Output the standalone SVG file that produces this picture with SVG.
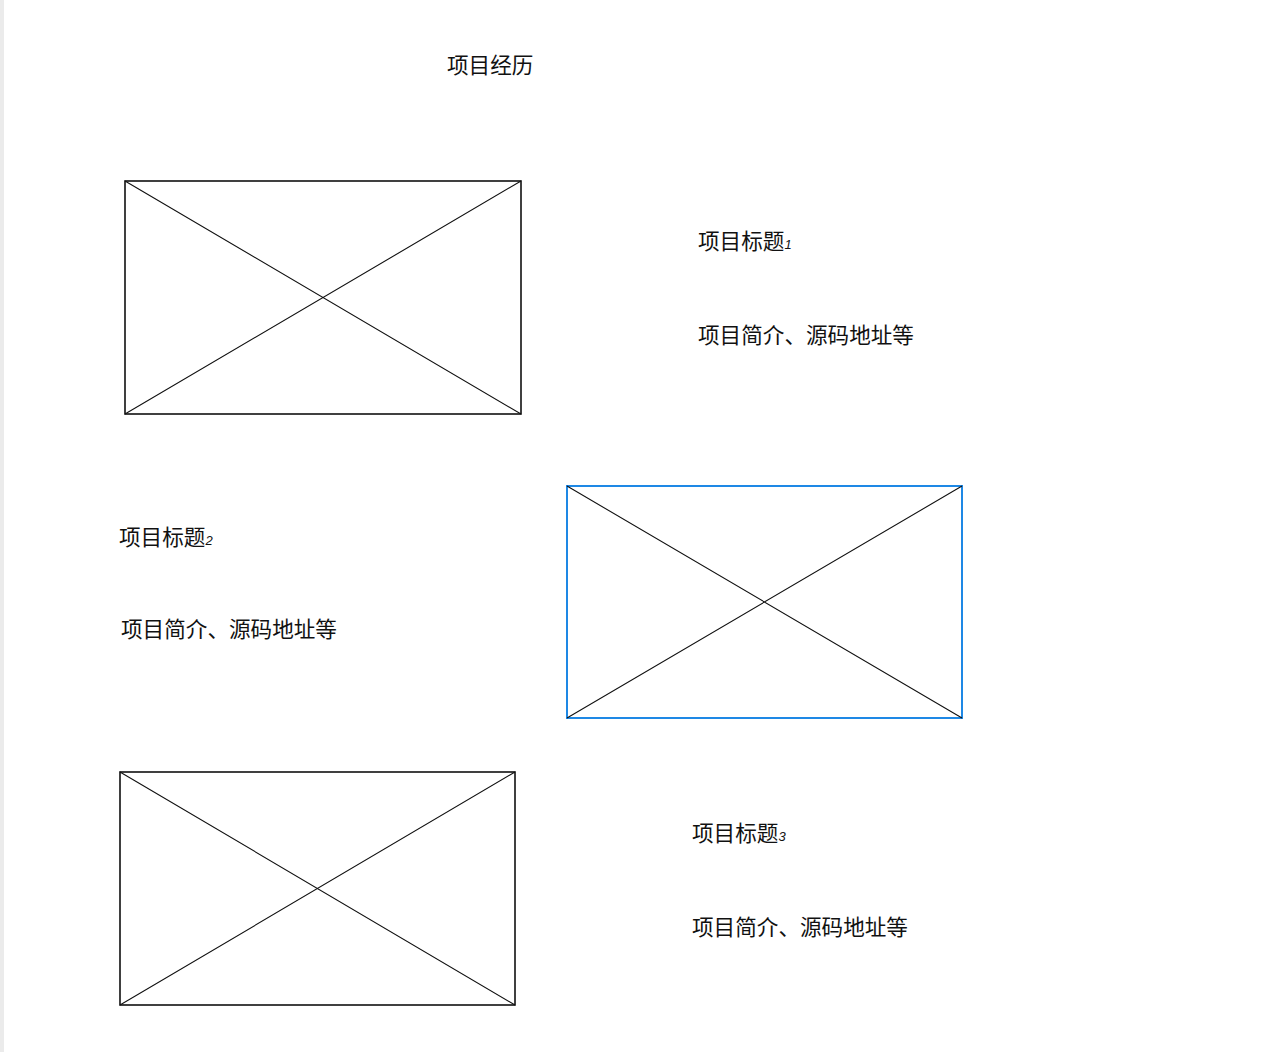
<svg xmlns="http://www.w3.org/2000/svg" width="1280" height="1052" viewBox="0 0 1280 1052">
<style>
.t{font-family:"Noto Sans CJK SC","Liberation Sans",sans-serif;font-size:21.6px;fill:#111}
.n{font-family:"Liberation Sans",sans-serif;font-size:13px;font-style:italic;fill:#111}
.box{fill:none;stroke:#111;stroke-width:1.6}
.x{stroke:#111;stroke-width:1.1;fill:none}
.blue{fill:none;stroke:#1e88e5;stroke-width:2}
</style>
<rect x="0" y="0" width="1280" height="1052" fill="#fff"/>
<rect x="0" y="0" width="4" height="1052" fill="#ebebeb"/>
<g id="title"><text class="t" x="447" y="73">项目经历</text></g>
<g id="img1">
<rect class="box" x="125" y="181" width="396" height="233"/>
<path class="x" d="M125 181 L521 414 M521 181 L125 414"/>
</g>
<g id="proj1">
<text class="t" x="698" y="249">项目标题<tspan class="n">1</tspan></text>
<text class="t" x="698" y="343">项目简介、源码地址等</text>
</g>
<g id="img2">
<rect class="blue" x="567" y="486" width="395" height="232"/>
<path class="x" d="M567 486 L962 718 M962 486 L567 718"/>
</g>
<g id="proj2">
<text class="t" x="119" y="545">项目标题<tspan class="n">2</tspan></text>
<text class="t" x="121" y="637">项目简介、源码地址等</text>
</g>
<g id="img3">
<rect class="box" x="120" y="772" width="395" height="233"/>
<path class="x" d="M120 772 L515 1005 M515 772 L120 1005"/>
</g>
<g id="proj3">
<text class="t" x="692" y="841">项目标题<tspan class="n">3</tspan></text>
<text class="t" x="692" y="935">项目简介、源码地址等</text>
</g>
<g id="connectors"/>
</svg>
